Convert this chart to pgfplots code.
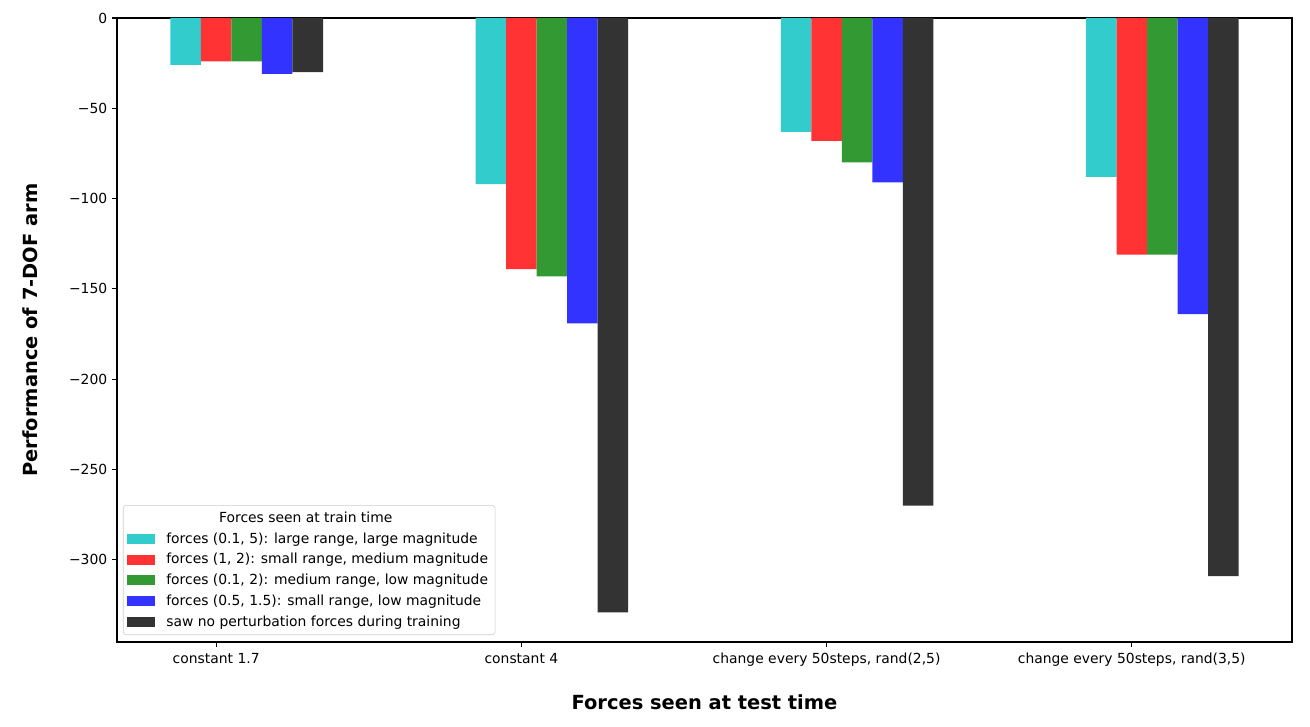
\documentclass[border=0pt]{standalone}
\usepackage{pgfplots}
\pgfplotsset{compat=1.18}
\usepackage{fontspec}
\setmainfont{DejaVu Sans}

\definecolor{ccyan}{HTML}{33CCCC}
\definecolor{cred}{HTML}{FF3333}
\definecolor{cgreen}{HTML}{339933}
\definecolor{cblue}{HTML}{3333FF}
\definecolor{cblack}{HTML}{333333}

\begin{document}
\begin{tikzpicture}
  % page = 1310 x 727 px, 1px = 0.72pt
  \useasboundingbox (-84.24pt,-61.2pt) rectangle (858.96pt,462.24pt);
  \begin{axis}[
    at={(0,0)}, anchor=south west,
    scale only axis,
    width=846pt, height=449.28pt,
    ybar, bar width=0.1, bar shift=0pt,
    xmin=-0.225, xmax=3.625,
    ymin=-345.45, ymax=0,
    axis line style={black, line width=0.8pt},
    tick pos=left, tick align=outside,
    major tick length=3.5pt,
    every tick/.style={black, line width=0.8pt},
    xtick={0.1,1.1,2.1,3.1},
    xticklabels={constant 1.7, constant 4, {change every 50steps, rand(2,5)}, {change every 50steps, rand(3,5)}},
    ytick={-300,-250,-200,-150,-100,-50,0},
    yticklabels={−300,−250,−200,−150,−100,−50,0},
    tick label style={font=\fontsize{10}{12}\selectfont},
    xticklabel style={yshift=-1pt},
    xlabel={Forces seen at test time},
    ylabel={Performance of 7-DOF arm},
    xlabel style={font=\fontsize{14}{16}\selectfont\bfseries, at={(axis description cs:0.5,-0.096)}, anchor=center},
    ylabel style={font=\fontsize{14}{16}\selectfont\bfseries, at={(axis description cs:-0.074,0.5)}, anchor=center, rotate=0},
    legend style={
      at={(axis description cs:0.0051,0.0112)}, anchor=south west,
      draw=black!20, rounded corners=2pt, fill=white, fill opacity=0.8, text opacity=1,
      font=\fontsize{10}{12}\selectfont,
      row sep=1.9pt, inner xsep=3pt, inner ysep=2.5pt,
      nodes={inner sep=2pt},
    },
    legend cell align=left,
    legend image code/.code={
      \fill[#1, draw=none, sharp corners, fill opacity=1] (0pt,-3.6pt) rectangle (20pt,3.6pt);
      \path (26pt,0pt);
    },
  ]
  \addlegendimage{empty legend}
  \addlegendentry{\hspace{38pt}Forces seen at train time}

  \addplot[fill=ccyan, draw=none] coordinates {(0,-26) (1,-92) (2,-63) (3,-88)};
  \addlegendentry{forces (0.1, 5): large range, large magnitude}

  \addplot[fill=cred, draw=none] coordinates {(0.1,-24) (1.1,-139) (2.1,-68) (3.1,-131)};
  \addlegendentry{forces (1, 2): small range, medium magnitude}

  \addplot[fill=cgreen, draw=none] coordinates {(0.2,-24) (1.2,-143) (2.2,-80) (3.2,-131)};
  \addlegendentry{forces (0.1, 2): medium range, low magnitude}

  \addplot[fill=cblue, draw=none] coordinates {(0.3,-31) (1.3,-169) (2.3,-91) (3.3,-164)};
  \addlegendentry{forces (0.5, 1.5): small range, low magnitude}

  \addplot[fill=cblack, draw=none] coordinates {(0.4,-30) (1.4,-329) (2.4,-270) (3.4,-309)};
  \addlegendentry{saw no perturbation forces during training}
  \end{axis}
\end{tikzpicture}
\end{document}
